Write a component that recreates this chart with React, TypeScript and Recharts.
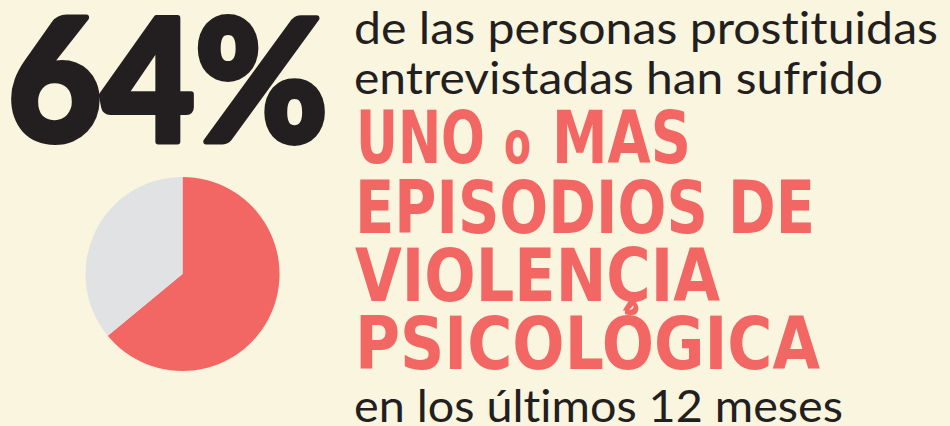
import { PieChart, Pie, Cell } from 'recharts';

// datos de la encuesta
const categories = ['Violencia psicológica', 'Sin violencia psicológica'];
const values = [64, 36];
const COLORS = ['#f26663', '#e1e2e3'];

const headline = '64%';
const introLines = ['de las personas prostituidas', 'entrevistadas han sufrido'];
const firstHighlight = ['UNO', 'o', 'MAS'];
const highlightLines = ['EPISODIOS DE', 'VIOLENÇIA', 'PSICOLÓGICA'];
const closingLine = 'en los últimos 12 meses';

const data = categories.map((name, i) => ({ name, value: values[i] }));

const BG = '#f9f5de';
const INK = '#231f20';
const RED = '#f26663';

const noLigatures = { fontVariantLigatures: 'none', fontFeatureSettings: "'liga' 0, 'dlig' 0" } as const;

export default function App() {
  return (
    <div
      style={{
        position: 'absolute',
        left: 0,
        top: 0,
        width: 950,
        height: 426,
        background: BG,
        overflow: 'hidden',
      }}
    >
      <PieChart width={950} height={426} margin={{ top: 0, right: 0, bottom: 0, left: 0 }}>
        <Pie
          data={data}
          dataKey="value"
          nameKey="name"
          cx={182.5}
          cy={274}
          outerRadius={97}
          startAngle={90}
          endAngle={-270}
          stroke="none"
          isAnimationActive={false}
        >
          {data.map((entry, index) => (
            <Cell key={`cell-${index}`} fill={COLORS[index % COLORS.length]} />
          ))}
        </Pie>
      </PieChart>

      {/* textos del cartel */}
      <svg
        width={950}
        height={426}
        style={{ position: 'absolute', left: 0, top: 0, pointerEvents: 'none' }}
      >
        <text
          x={8}
          y={141}
          fontFamily="Lato, 'Open Sans', sans-serif"
          fontWeight={900}
          fontSize={170}
          fill={INK}
          stroke={INK}
          strokeWidth={6}
          strokeLinejoin="round"
          textLength={320}
          lengthAdjust="spacingAndGlyphs"
        >
          {headline}
        </text>

        <g fontFamily="Lato, 'Open Sans', sans-serif" fontSize={44} fill={INK} style={noLigatures}>
          <text x={354} y={44} textLength={584} lengthAdjust="spacingAndGlyphs">
            {introLines[0]}
          </text>
          <text x={354} y={94} textLength={529} lengthAdjust="spacingAndGlyphs">
            {introLines[1]}
          </text>
          <text x={354} y={422} textLength={489} lengthAdjust="spacingAndGlyphs">
            {closingLine}
          </text>
        </g>

        <g fontFamily="'DejaVu Sans', sans-serif" fontWeight="bold" fontSize={73} fill={RED}>
          <text x={356} y={163} textLength={129} lengthAdjust="spacingAndGlyphs">
            {firstHighlight[0]}
          </text>
          <text x={504} y={163} fontSize={58} textLength={27} lengthAdjust="spacingAndGlyphs">
            {firstHighlight[1]}
          </text>
          <text x={552} y={163} textLength={139} lengthAdjust="spacingAndGlyphs">
            {firstHighlight[2]}
          </text>
          <text x={355} y={233} textLength={460} lengthAdjust="spacingAndGlyphs">
            {highlightLines[0]}
          </text>
          <text x={355} y={301} textLength={365} lengthAdjust="spacingAndGlyphs">
            {highlightLines[1]}
          </text>
          <text x={355} y={369} textLength={465} lengthAdjust="spacingAndGlyphs">
            {highlightLines[2]}
          </text>
        </g>
      </svg>
    </div>
  );
}
